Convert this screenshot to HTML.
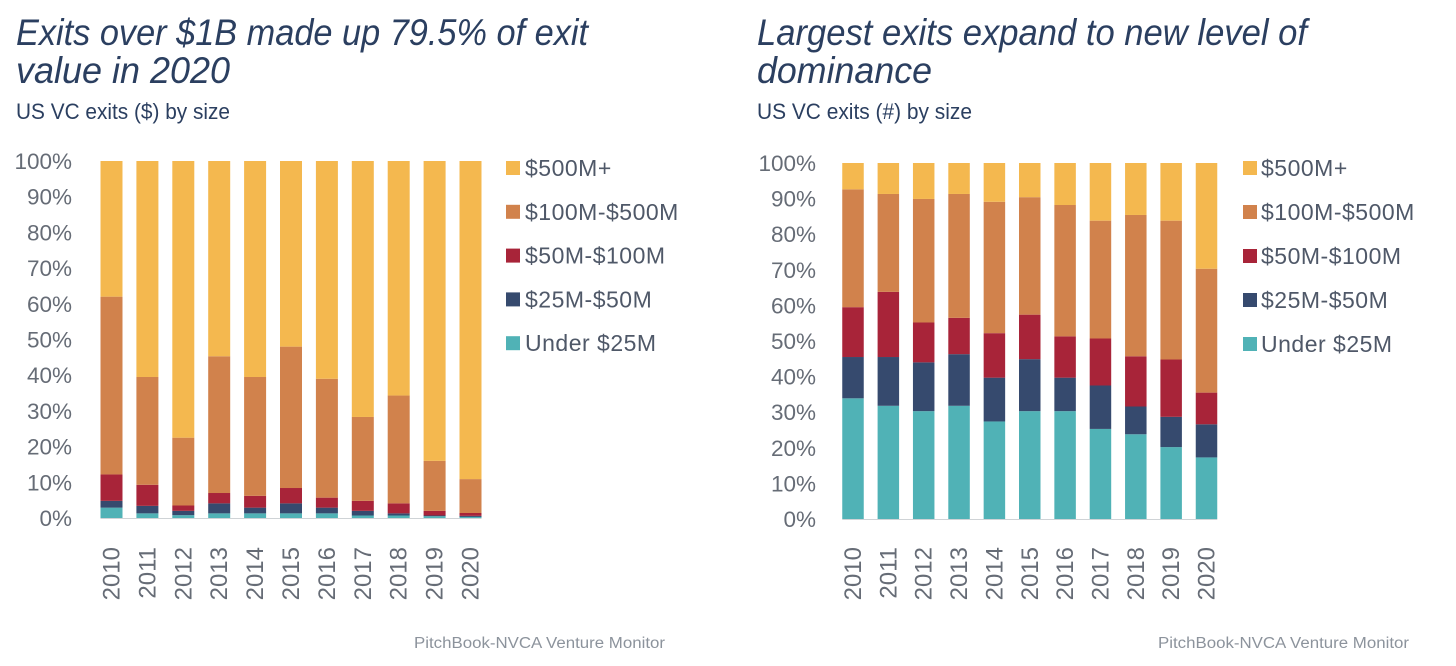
<!DOCTYPE html>
<html>
<head>
<meta charset="utf-8">
<title>US VC exits by size</title>
<style>
html,body{margin:0;padding:0;background:#fff;width:1456px;height:666px;overflow:hidden}
svg{display:block}
text{font-family:"Liberation Sans",sans-serif}
.title{font-size:37px;font-style:italic;fill:#2b3f60}
.sub{font-size:22px;fill:#2b3f60}
.tick{font-size:22.5px;fill:#666c76}
.year{font-size:24px;fill:#666c76}
.leg{font-size:23px;fill:#4f5868}
.src{font-size:15.5px;fill:#8c939c}
</style>
</head>
<body>
<svg id="root" xmlns="http://www.w3.org/2000/svg" width="1456" height="666" viewBox="0 0 1456 666">
<text class="title" x="16" y="45" textLength="572" lengthAdjust="spacingAndGlyphs">Exits over $1B made up 79.5% of exit</text>
<text class="title" x="16" y="83" textLength="214" lengthAdjust="spacingAndGlyphs">value in 2020</text>
<text class="sub" x="16" y="119" textLength="214" lengthAdjust="spacingAndGlyphs">US VC exits ($) by size</text>
<text class="src" x="414" y="648" textLength="251" lengthAdjust="spacingAndGlyphs">PitchBook-NVCA Venture Monitor</text>
<text class="title" x="757" y="45" textLength="550" lengthAdjust="spacingAndGlyphs">Largest exits expand to new level of</text>
<text class="title" x="757" y="83" textLength="175" lengthAdjust="spacingAndGlyphs">dominance</text>
<text class="sub" x="757" y="119" textLength="215" lengthAdjust="spacingAndGlyphs">US VC exits (#) by size</text>
<text class="src" x="1158" y="648" textLength="251" lengthAdjust="spacingAndGlyphs">PitchBook-NVCA Venture Monitor</text>
</svg>
<script>
const years = ["2010","2011","2012","2013","2014","2015","2016","2017","2018","2019","2020"];
const tickValues = [0,10,20,30,40,50,60,70,80,90,100];
const seriesLabels = ["Under $25M","$25M-$50M","$50M-$100M","$100M-$500M","$500M+"];
const seriesColors = ["#50b2b6","#364a6e","#a82439","#d1824c","#f4b84f"];

const valueUnder25 = [2.9,1.3,0.8,1.3,1.3,1.3,1.3,0.7,0.7,0.5,0.3];
const value25to50 = [1.9,2.1,1.2,2.8,1.6,2.8,1.6,1.3,0.6,0.2,0.3];
const value50to100 = [7.4,5.9,1.5,2.9,3.3,4.3,2.8,2.8,2.8,1.3,0.8];
const value100to500 = [49.8,30.2,19.0,38.3,33.3,39.6,33.3,23.5,30.2,14.0,9.5];
const value500plus = [38.0,60.5,77.5,54.7,60.5,52.0,61.0,71.7,65.7,84.0,89.1];

const countUnder25 = [33.9,31.8,30.3,31.8,27.4,30.3,30.3,25.3,23.8,20.2,17.3];
const count25to50 = [11.6,13.7,13.7,14.5,12.3,14.6,9.4,12.2,7.8,8.5,9.3];
const count50to100 = [14.0,18.3,11.2,10.2,12.5,12.5,11.6,13.2,14.1,16.1,8.9];
const count100to500 = [33.1,27.5,34.7,34.8,36.9,33.0,36.9,33.1,39.7,39.0,34.8];
const count500plus = [7.4,8.7,10.1,8.7,10.9,9.6,11.8,16.2,14.6,16.2,29.7];

const NS = "http://www.w3.org/2000/svg";
const root = document.getElementById("root");

function make(tag, attrs, parent, txt) {
  const el = document.createElementNS(NS, tag);
  for (const k in attrs) el.setAttribute(k, attrs[k]);
  if (txt !== undefined) el.textContent = txt;
  parent.appendChild(el);
  return el;
}

function drawChart(prefix, layout, series) {
  const g = make("g", {}, root);
  
  
  const yScale = v => layout.y0 + (layout.y100 - layout.y0) * v / 100;
  const xCenter = i => layout.xFirst + i * (layout.xLast - layout.xFirst) / (years.length - 1);

  tickValues.forEach(t => {
    const label = make("text", {class:"tick", x:layout.tickX, y:yScale(t) + 8, "text-anchor":"end"}, g, t + "%");
    
    
  });

  years.forEach((yr, i) => {
    let cum = 0;
    series.forEach((vals, s) => {
      const yTop = yScale(cum + vals[i]);
      const yBot = yScale(cum);
      const r = make("rect", {x:xCenter(i) - layout.barW / 2, y:yTop, width:layout.barW, height:yBot - yTop, fill:seriesColors[s]}, g);
      
      
      cum += vals[i];
    });
    const cx = xCenter(i) + 8;
    const label = make("text", {class:"year", "text-anchor":"end", transform:"translate(" + cx + "," + layout.yearY + ") rotate(-90)"}, g, yr);
    
    
  });

  const axis = make("line", {x1:xCenter(0) - layout.barW / 2, x2:xCenter(years.length - 1) + layout.barW / 2, y1:layout.y0 + 0.5, y2:layout.y0 + 0.5, stroke:"#cfd3d6", "stroke-width":1}, g);
  
  

  seriesLabels.forEach((lab, s) => {
    const row = seriesLabels.length - 1 - s;
    const cy = layout.legY + row * layout.legStep;
    const entry = make("g", {}, g);
    
    
    const sw = make("rect", {x:layout.legX, y:cy - 7, width:14, height:14, fill:seriesColors[s]}, entry);
    
    
    const tx = make("text", {class:"leg", x:layout.legX + layout.legGap, y:cy + 8, style:"letter-spacing:.5px"}, entry, lab);
    
    
  });
}

drawChart("left", {y0:518, y100:161, xFirst:111.5, xLast:470.5, barW:22, tickX:72, yearY:547, legX:506, legY:168, legStep:43.8, legGap:19},
  [valueUnder25, value25to50, value50to100, value100to500, value500plus]);
drawChart("right", {y0:519, y100:163, xFirst:853, xLast:1206.5, barW:21.5, tickX:816, yearY:547, legX:1243, legY:168, legStep:44, legGap:18},
  [countUnder25, count25to50, count50to100, count100to500, count500plus]);
</script>
</body>
</html>
